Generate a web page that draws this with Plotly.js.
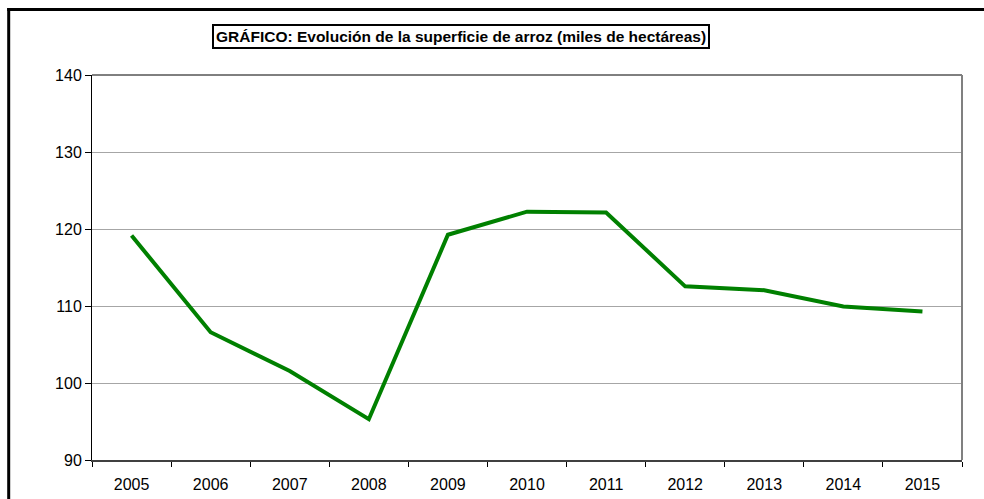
<!DOCTYPE html>
<html>
<head>
<meta charset="utf-8">
<script src="https://cdn.plot.ly/plotly-3.0.1.min.js"></script>
<style>
  html, body { margin: 0; padding: 0; background: #fff; }
  #chart { width: 984px; height: 499px; }
</style>
</head>
<body>
<div id="chart"></div>
<script>
const years = ["2005", "2006", "2007", "2008", "2009", "2010", "2011", "2012", "2013", "2014", "2015"];
const superficie = [119.15, 106.6, 101.55, 95.3, 119.25, 122.25, 122.15, 112.55, 112.05, 109.95, 109.3];
const yTicks = [90, 100, 110, 120, 130, 140];
const titleText = "GRÁFICO: Evolución de la superficie de arroz (miles de hectáreas)";

const W = 984, H = 499;
const M = { l: 92, r: 22, t: 75, b: 39 };
const pw = W - M.l - M.r, ph = H - M.t - M.b;
const px2x = p => (p - M.l) / pw;
const py2y = p => 1 - (p - M.t) / ph;

const trace = {
  x: years,
  y: superficie,
  type: "scatter",
  mode: "lines",
  line: { color: "#008000", width: 4 },
  hoverinfo: "x+y"
};

const layout = {
  width: W,
  height: H,
  margin: M,
  paper_bgcolor: "#ffffff",
  plot_bgcolor: "#ffffff",
  showlegend: false,
  font: { family: "Liberation Sans, Arial, sans-serif", color: "#000", size: 16 },
  xaxis: {
    type: "category",
    categoryarray: years,
    range: [-0.5, years.length - 0.5],
    tickson: "boundaries",
    ticks: "outside",
    ticklen: 5,
    tickwidth: 1,
    tickcolor: "#000",
    showline: true,
    linecolor: "#404040",
    linewidth: 2,
    showgrid: false,
    zeroline: false,
    ticklabelstandoff: 9,
    tickfont: { size: 16, color: "#000" }
  },
  yaxis: {
    range: [90, 140],
    tickvals: yTicks,
    ticktext: yTicks.map(String),
    ticks: "outside",
    ticklen: 6,
    tickwidth: 1,
    tickcolor: "#000",
    showline: true,
    linecolor: "#000",
    linewidth: 1,
    showgrid: true,
    gridcolor: "#a6a6a6",
    gridwidth: 1,
    zeroline: false,
    tickfont: { size: 16, color: "#000" }
  },
  shapes: [
    { type: "line", xref: "paper", yref: "paper", x0: 0, x1: 1, y0: 1, y1: 1,
      line: { color: "#000", width: 1 } },
    { type: "line", xref: "paper", yref: "paper", x0: 1, x1: 1, y0: 0, y1: 1,
      line: { color: "#808080", width: 2 } },
    { type: "line", xref: "paper", yref: "paper", x0: px2x(8.7), x1: px2x(8.7), y0: py2y(8), y1: py2y(520),
      line: { color: "#000", width: 3 } },
    { type: "line", xref: "paper", yref: "paper", x0: px2x(7.2), x1: px2x(1000), y0: py2y(9.5), y1: py2y(9.5),
      line: { color: "#000", width: 3 } }
  ],
  annotations: [
    {
      text: "<b>" + titleText + "</b>",
      xref: "paper", yref: "paper",
      x: px2x(461), y: py2y(36.3),
      xanchor: "center", yanchor: "middle",
      showarrow: false,
      font: { size: 15.5, color: "#000", family: "Liberation Sans, Arial, sans-serif" },
      bordercolor: "#000",
      borderwidth: 2,
      borderpad: 2,
      bgcolor: "#fff"
    }
  ]
};

Plotly.newPlot("chart", [trace], layout, { displayModeBar: false, staticPlot: true });
</script>
</body>
</html>
